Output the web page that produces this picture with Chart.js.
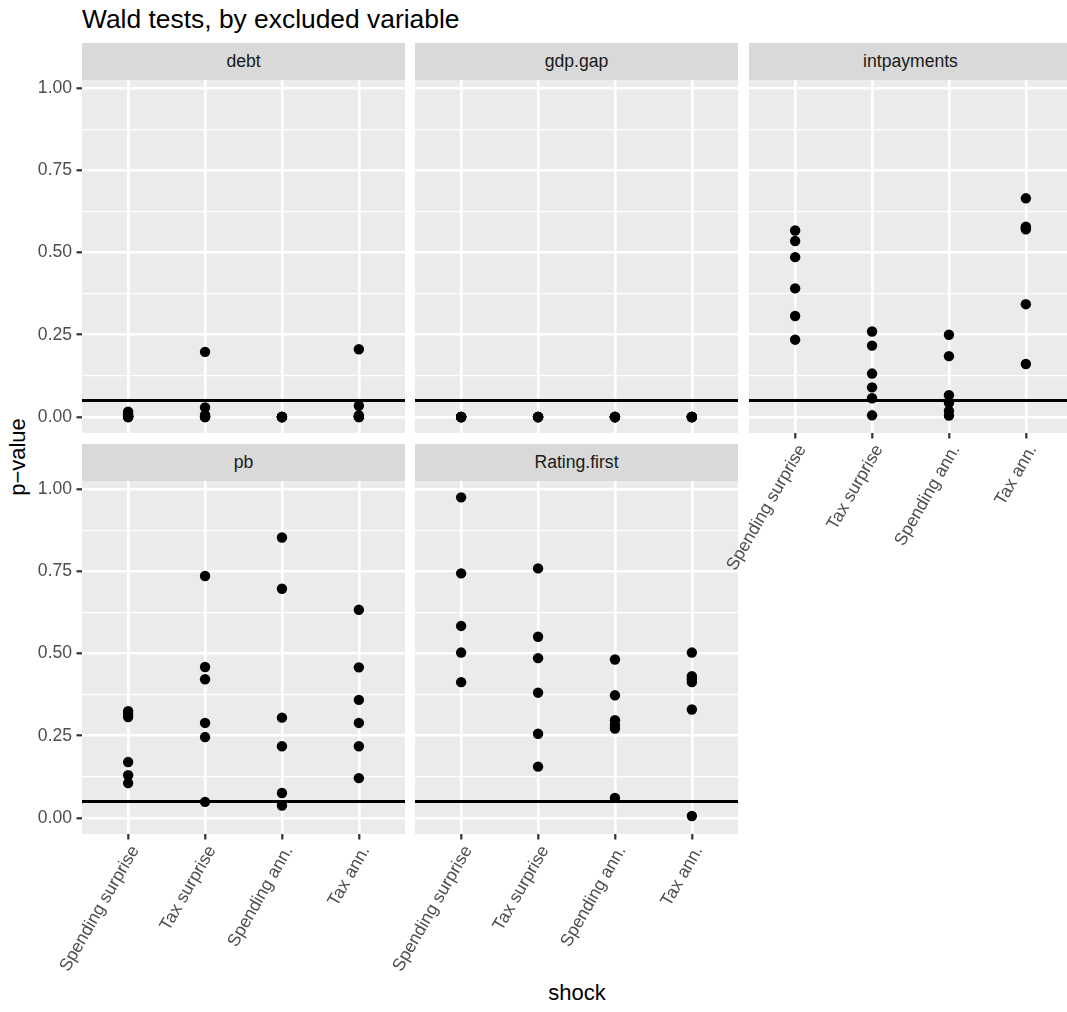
<!DOCTYPE html>
<html>
<head>
<meta charset="utf-8">
<script src="https://cdn.jsdelivr.net/npm/chart.js@4.4.1/dist/chart.umd.min.js"></script>
<style>
  body { margin: 0; background: #fff; overflow: hidden; width: 1067px; height: 1012px; position: relative; font-family: "Liberation Sans", Arial, sans-serif; }
  canvas { position: absolute; }
  .txt { position: absolute; white-space: nowrap; }
  .strip { position: absolute; background: #d9d9d9; color: #1a1a1a; font-size: 17.6px; text-align: center; height: 37px; line-height: 37px; }
</style>
</head>
<body>
<div class="txt" style="left:82px; top:6px; font-size:26.4px; line-height:26.4px; color:#000;">Wald tests, by excluded variable</div>
<div class="txt" style="left:-82px; top:446px; width:200px; height:22px; font-size:22px; line-height:22px; text-align:center; transform:rotate(-90deg); color:#000;">p−value</div>
<div class="txt" style="left:477px; top:982px; width:200px; font-size:22px; line-height:22px; text-align:center; color:#000;">shock</div>
<script>
const shocks = ["Spending surprise", "Tax surprise", "Spending ann.", "Tax ann."];
const variables = ["debt", "gdp.gap", "intpayments", "pb", "Rating.first"];

// p-values per shock (one list per shock)
const debtValues = [
  [0.016, 0.008, 0.002, 0.0, 0.0, 0.0],
  [0.198, 0.029, 0.006, 0.001, 0.0, 0.0],
  [0.0, 0.0, 0.0, 0.0, 0.0, 0.0],
  [0.206, 0.034, 0.005, 0.001, 0.0, 0.0]
];
const gdpGapValues = [
  [0.0, 0.0, 0.0, 0.0, 0.0, 0.0],
  [0.0, 0.0, 0.0, 0.0, 0.0, 0.0],
  [0.0, 0.0, 0.0, 0.0, 0.0, 0.0],
  [0.0, 0.0, 0.0, 0.0, 0.0, 0.0]
];
const intpaymentsValues = [
  [0.567, 0.535, 0.486, 0.391, 0.307, 0.235],
  [0.260, 0.217, 0.132, 0.090, 0.057, 0.005],
  [0.250, 0.185, 0.066, 0.043, 0.018, 0.004],
  [0.665, 0.579, 0.575, 0.571, 0.343, 0.161]
];
const pbValues = [
  [0.325, 0.316, 0.307, 0.170, 0.130, 0.106],
  [0.736, 0.459, 0.422, 0.289, 0.246, 0.049],
  [0.853, 0.697, 0.305, 0.218, 0.076, 0.038],
  [0.633, 0.458, 0.359, 0.289, 0.218, 0.121]
];
const ratingFirstValues = [
  [0.975, 0.744, 0.584, 0.503, 0.413],
  [0.759, 0.551, 0.486, 0.381, 0.256, 0.156],
  [0.482, 0.373, 0.297, 0.283, 0.272, 0.061],
  [0.503, 0.431, 0.422, 0.413, 0.330, 0.006]
];
const panelValues = [debtValues, gdpGapValues, intpaymentsValues, pbValues, ratingFirstValues];
const cutoff = 0.05;
const yMin = -0.0488, yMax = 1.0248;

// layout (px)
const colLeft = [82, 415, 749];
const rowTop = [80, 481];
const panelW = 323, panelH = 353, stripH = 37;
const axisW = 82, padTop = 12, labelH = 170;

const font = { family: "'Liberation Sans', Arial, sans-serif", size: 17.6 };
const isMajor = (v) => Math.abs(v * 4 - Math.round(v * 4)) < 1e-6;

const panelDecor = {
  id: "panelDecor",
  beforeDraw(chart) {
    const a = chart.chartArea, ctx = chart.ctx;
    ctx.save();
    ctx.fillStyle = "#ebebeb";
    ctx.fillRect(a.left, a.top, a.right - a.left, a.bottom - a.top);
    ctx.restore();
  },
  afterDatasetsDraw(chart) {
    const a = chart.chartArea, ctx = chart.ctx;
    const y = chart.scales.y.getPixelForValue(cutoff);
    ctx.save();
    ctx.strokeStyle = "#000";
    ctx.lineWidth = 2.8;
    ctx.beginPath();
    ctx.moveTo(a.left, y);
    ctx.lineTo(a.right, y);
    ctx.stroke();
    ctx.restore();
  }
};

variables.forEach((name, i) => {
  const col = i % 3, row = Math.floor(i / 3);
  const hasX = i >= 2;
  const hasY = col === 0;

  const strip = document.createElement("div");
  strip.className = "strip";
  strip.style.left = colLeft[col] + "px";
  strip.style.top = (rowTop[row] - stripH) + "px";
  strip.style.width = panelW + "px";
  strip.textContent = name;
  document.body.appendChild(strip);

  const w = axisW + panelW;
  const h = padTop + panelH + (hasX ? labelH : 0);
  const canvas = document.createElement("canvas");
  canvas.width = w;
  canvas.height = h;
  canvas.style.left = (colLeft[col] - axisW) + "px";
  canvas.style.top = (rowTop[row] - padTop) + "px";
  canvas.style.width = w + "px";
  canvas.style.height = h + "px";
  // axis labels of the top-right panel are drawn over the panel below-left
  canvas.style.zIndex = hasX && row === 0 ? 2 : 1;
  document.body.appendChild(canvas);

  const points = [];
  panelValues[i].forEach((vals, s) => {
    vals.forEach((v) => points.push({ x: s + 1, y: v }));
  });

  new Chart(canvas.getContext("2d"), {
    type: "scatter",
    data: {
      datasets: [{
        data: points,
        backgroundColor: "#000",
        borderWidth: 0,
        pointRadius: 5.2,
        pointHoverRadius: 5.2
      }]
    },
    options: {
      responsive: false,
      animation: false,
      devicePixelRatio: 1,
      events: [],
      layout: { autoPadding: false, padding: { top: padTop, left: 0, right: 0, bottom: 0 } },
      plugins: { legend: { display: false }, tooltip: { enabled: false } },
      scales: {
        x: {
          type: "linear",
          min: 0.4,
          max: 4.6,
          afterFit(s) { s.height = hasX ? labelH : 0; s.paddingLeft = 0; s.paddingRight = 0; },
          border: { display: false },
          grid: { color: "#fff", lineWidth: 2.6, drawTicks: hasX, tickLength: 5.5, tickColor: "#333", tickWidth: 2.2 },
          ticks: {
            display: hasX,
            stepSize: 1,
            autoSkip: false,
            includeBounds: false,
            minRotation: 60,
            maxRotation: 60,
            padding: 2.5,
            labelOffset: 7,
            color: "#4d4d4d",
            font: font,
            callback: (v) => shocks[Math.round(v) - 1]
          }
        },
        y: {
          type: "linear",
          min: yMin,
          max: yMax,
          afterFit(s) { s.width = axisW; s.paddingTop = 0; s.paddingBottom = 0; },
          border: { display: false },
          grid: {
            color: "#fff",
            lineWidth: (c) => (c.tick && isMajor(c.tick.value) ? 2.6 : 1.3),
            drawTicks: hasY,
            tickLength: 5.5,
            tickColor: (c) => (c.tick && isMajor(c.tick.value) ? "#333" : "rgba(0,0,0,0)"),
            tickWidth: 2.2
          },
          ticks: {
            display: hasY,
            stepSize: 0.125,
            autoSkip: false,
            includeBounds: false,
            padding: 4.4,
            color: "#4d4d4d",
            font: font,
            callback: (v) => (isMajor(v) ? v.toFixed(2) : "")
          }
        }
      }
    },
    plugins: [panelDecor]
  });
});
</script>
</body>
</html>
